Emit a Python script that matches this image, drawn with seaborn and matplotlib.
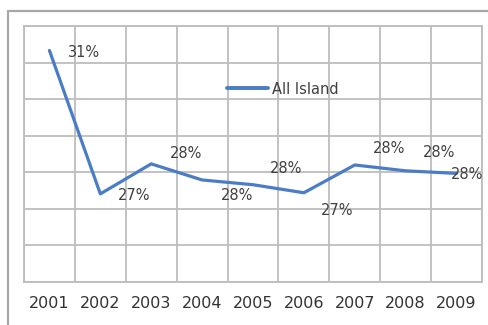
import matplotlib
matplotlib.use("Agg")
import matplotlib.pyplot as plt
import matplotlib.patches as mpatches
import seaborn as sns
import pandas as pd
import numpy as np

years = [2001, 2002, 2003, 2004, 2005, 2006, 2007, 2008, 2009]
values = [31.33, 27.41, 28.23, 27.79, 27.66, 27.44, 28.20, 28.04, 27.97]
series_name = "All Island"

# label offsets in pixels (dx, dy) relative to each point
label_offsets = [(35, -2), (34, -2), (35, 10), (35, -16), (33, 16),
                 (33, -18), (34, 16), (33, 18), (11, -1)]

sns.set_theme(style="white")
plt.rcParams['font.family'] = ['DejaVu Sans']

W, H = 489, 325
fig = plt.figure(figsize=(W / 100, H / 100), dpi=100)
ax = fig.add_axes([24 / W, (H - 282) / H, (482 - 24) / W, (282 - 26) / H])

df = pd.DataFrame({"Year": years, "Value": values, "Series": series_name})
line_color = "#4A7DC6"
sns.lineplot(data=df, x="Year", y="Value", hue="Series", palette=[line_color],
             linewidth=2.3, ax=ax)

ax.set_xlim(2000.5, 2009.5)
ax.set_ylim(25, 32)
ax.set_xticks(years)
ax.set_xticklabels([str(y) for y in years])
ax.set_xticks(np.arange(2000.5, 2010, 1), minor=True)
ax.set_yticks(np.arange(25, 33, 1))
ax.set_yticklabels([])
ax.grid(True, which="minor", axis="x", color="#BDBDBD", linewidth=1.3)
ax.grid(True, which="major", axis="y", color="#BDBDBD", linewidth=1.3)
ax.grid(False, which="major", axis="x")
ax.tick_params(axis="x", which="both", length=0, pad=10, labelsize=11.5,
               labelcolor="#333333")
ax.tick_params(axis="y", length=0)
ax.set_xlabel("")
ax.set_ylabel("")
for s in ax.spines.values():
    s.set_color("#BDBDBD")
    s.set_linewidth(1.3)

for (yr, v, (dx, dy)) in zip(years, values, label_offsets):
    ax.annotate(f"{round(v)}%", xy=(yr, v), xytext=(dx * 0.72, dy * 0.72),
                textcoords="offset points", ha="center", va="center",
                fontsize=10.5, color="#404040", clip_on=False)

leg = ax.legend(loc="center left", bbox_to_anchor=((227 - 24) / 458, (282 - 89) / 256),
                frameon=False, borderpad=0, borderaxespad=0, handlelength=2.8,
                handletextpad=0.3, fontsize=10.5)
for t in leg.get_texts():
    t.set_color("#404040")
for l in leg.get_lines():
    l.set_linewidth(2.8)

# outer chart frame (extends beyond the right and bottom edges)
frame = mpatches.Rectangle((8 / W, -0.1), 1.0, 1.1 - 11 / H,
                           transform=fig.transFigure, fill=False,
                           edgecolor="#A8A8A8", linewidth=1.6, clip_on=False)
fig.patches.append(frame)

fig.savefig("out.png", dpi=100)
